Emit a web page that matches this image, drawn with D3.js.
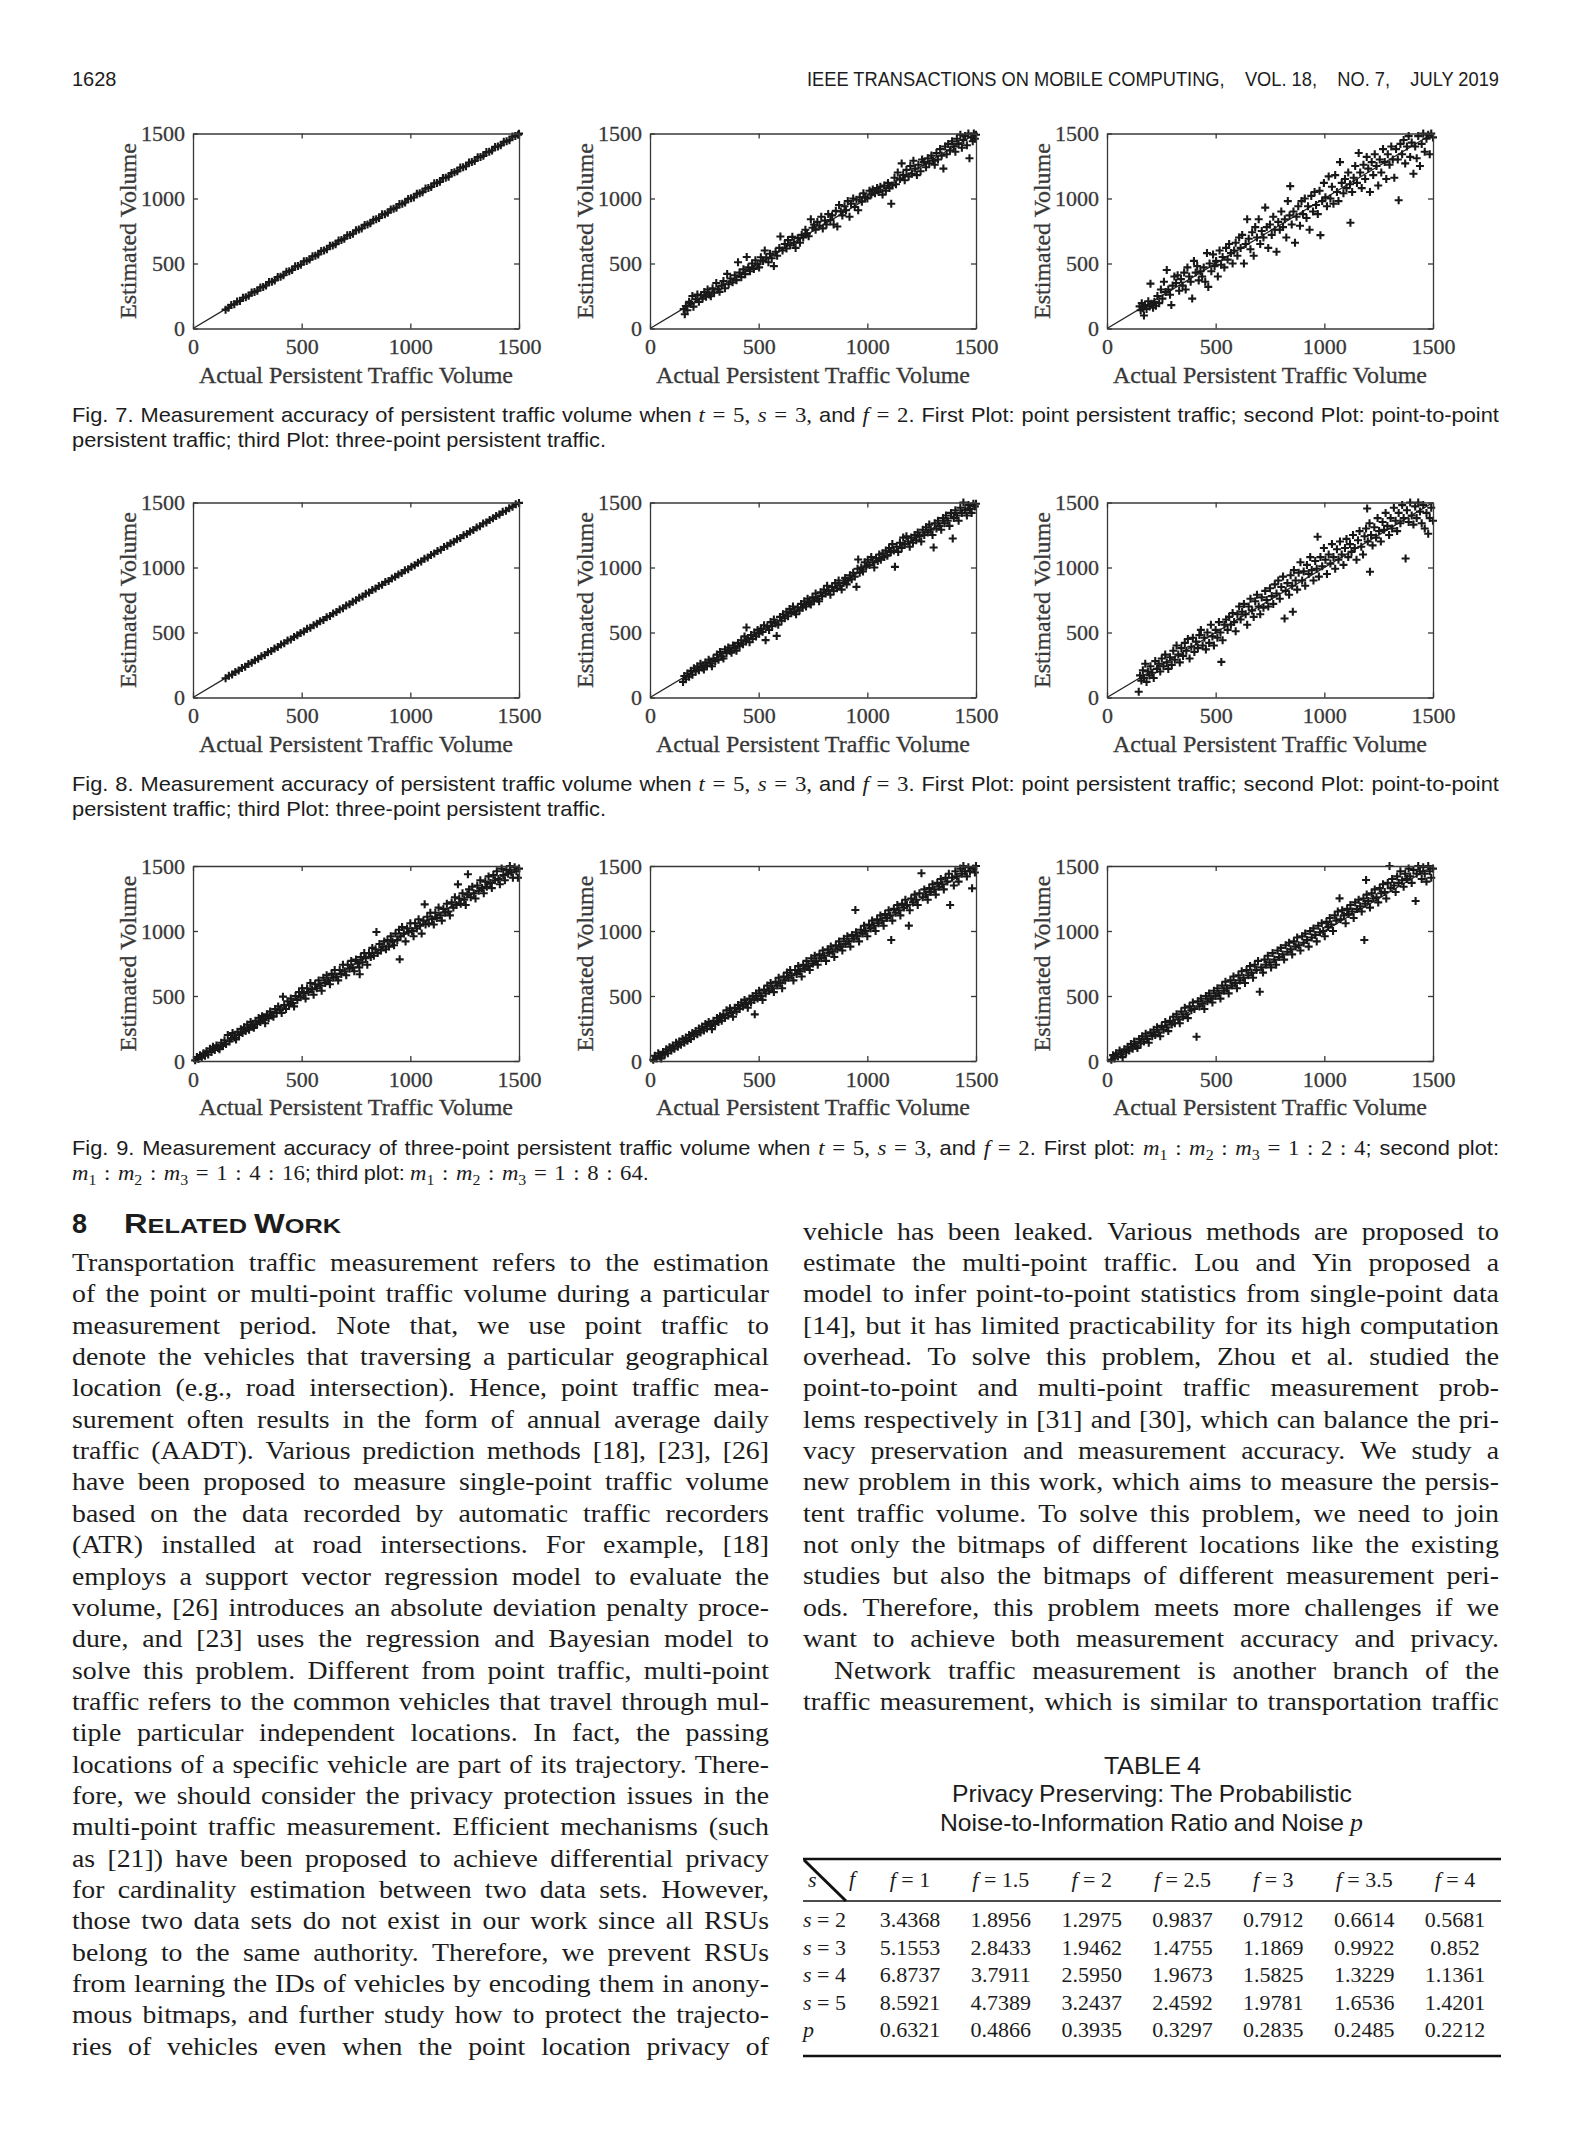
<!DOCTYPE html>
<html><head><meta charset="utf-8">
<script src="https://cdn.jsdelivr.net/npm/d3@7"></script>
<style>body{margin:0;background:#fff}svg{display:block}text{white-space:pre}</style>
</head><body>
<svg id="page" width="1569" height="2142"></svg>
<script>
// ---------------- DATA ----------------
const tickValues = [0, 500, 1000, 1500];
const axisDomain = [0, 1500];
const xLabel = "Actual Persistent Traffic Volume";
const yLabel = "Estimated Volume";

// Fig. 7 (actual, estimated)
const fig7a = [[150,145],[163,160],[176,181],[190,186],[203,207],[216,212],[230,236],[243,240],[256,252],[270,277],[283,281],[296,290],[310,316],[323,320],[336,331],[350,357],[363,359],[376,370],[390,396],[403,399],[416,410],[430,437],[443,440],[456,450],[470,478],[483,480],[496,490],[510,517],[523,519],[536,530],[550,556],[563,560],[576,569],[590,597],[603,600],[616,610],[630,637],[643,639],[656,649],[670,676],[683,681],[696,690],[710,717],[723,720],[736,729],[750,756],[763,761],[776,769],[790,797],[803,800],[816,809],[830,836],[843,841],[856,850],[870,879],[883,878],[896,890],[910,916],[923,921],[936,929],[950,957],[963,960],[976,969],[990,997],[1003,1002],[1016,1008],[1030,1037],[1043,1040],[1056,1049],[1070,1077],[1083,1081],[1096,1089],[1110,1117],[1123,1120],[1136,1128],[1150,1158],[1163,1160],[1176,1168],[1190,1196],[1203,1201],[1216,1209],[1230,1238],[1243,1240],[1256,1248],[1270,1276],[1283,1281],[1296,1289],[1310,1318],[1323,1320],[1336,1328],[1350,1357],[1363,1359],[1376,1369],[1390,1397],[1403,1400],[1416,1409],[1430,1437],[1443,1440],[1456,1448],[1470,1477],[1483,1480],[1496,1490],[1500,1499]];
const fig7b = [[155,150],[160,110],[165,172],[172,140],[180,205],[188,190],[195,250],[200,168],[210,225],[218,262],[225,205],[235,255],[242,230],[250,280],[258,245],[265,300],[272,262],[280,248],[288,310],[295,275],[305,350],[312,300],[320,282],[330,330],[338,365],[345,310],[355,420],[362,340],[370,385],[380,355],[390,410],[398,372],[405,510],[412,430],[420,395],[430,455],[438,418],[445,550],[452,470],[460,440],[470,500],[478,458],[485,525],[495,495],[502,470],[510,548],[520,520],[528,600],[535,545],[545,510],[552,575],[560,540],[570,480],[578,590],[585,560],[595,620],[600,708],[610,600],[620,650],[628,615],[635,680],[645,640],[655,705],[662,660],[670,620],[680,695],[690,660],[698,720],[705,700],[715,760],[722,730],[730,710],[740,840],[748,775],[755,800],[762,760],[770,820],[780,790],[788,860],[795,770],[805,830],[812,800],[820,880],[830,835],[838,870],[845,800],[855,905],[862,785],[870,950],[878,900],[885,870],[895,940],[902,910],[910,980],[918,860],[925,960],[935,1000],[942,935],[950,990],[958,910],[965,1010],[975,975],[982,1040],[990,1010],[1000,1000],[1010,1060],[1018,1030],[1025,1070],[1035,1040],[1045,1080],[1052,1050],[1060,1090],[1070,1030],[1078,1100],[1085,1060],[1095,1120],[1102,1080],[1110,960],[1115,1100],[1125,1160],[1132,1110],[1140,1200],[1150,1150],[1158,1270],[1165,1180],[1172,1140],[1180,1220],[1190,1170],[1198,1250],[1205,1190],[1212,1290],[1220,1230],[1228,1180],[1235,1260],[1245,1210],[1252,1300],[1260,1280],[1270,1240],[1278,1310],[1285,1270],[1295,1330],[1302,1290],[1310,1260],[1318,1350],[1325,1300],[1335,1380],[1342,1330],[1350,1230],[1358,1400],[1365,1340],[1372,1420],[1380,1370],[1390,1440],[1398,1400],[1405,1360],[1412,1460],[1420,1420],[1428,1490],[1435,1390],[1442,1450],[1450,1480],[1458,1410],[1465,1500],[1470,1310],[1478,1470],[1485,1440],[1490,1500],[1495,1460],[1500,1490]];
const fig7c = [[150,170],[155,140],[160,195],[165,155],[170,100],[175,180],[182,150],[190,210],[196,170],[200,345],[205,190],[212,160],[218,205],[225,175],[232,250],[240,195],[248,300],[255,230],[262,360],[270,280],[275,450],[282,300],[290,260],[296,180],[302,330],[310,400],[318,350],[325,410],[332,290],[340,380],[348,330],[355,430],[362,300],[370,470],[378,400],[385,360],[392,230],[400,520],[408,430],[415,480],[422,370],[430,440],[438,400],[445,470],[452,360],[460,580],[466,320],[472,500],[480,440],[488,570],[495,480],[502,520],[510,400],[518,600],[525,490],[532,550],[540,470],[548,620],[555,530],[562,650],[570,580],[578,500],[585,600],[592,660],[600,560],[608,700],[615,620],[622,720],[630,500],[638,650],[645,840],[652,690],[660,610],[668,740],[675,560],[682,780],[690,700],[698,840],[705,650],[712,750],[720,700],[728,930],[735,780],[742,620],[750,800],[758,720],[765,860],[772,760],[780,590],[788,820],[795,760],[802,900],[810,780],[818,840],[825,700],[832,980],[840,870],[843,1095],[850,800],[858,900],[865,660],[872,860],[880,940],[888,790],[895,980],[902,880],[910,1000],[918,850],[925,940],[932,760],[940,1020],[948,900],[955,1050],[962,950],[970,880],[978,1060],[982,718],[990,980],[998,1120],[1005,1010],[1012,940],[1020,1170],[1028,1000],[1035,1090],[1042,960],[1050,1180],[1058,1050],[1065,980],[1072,1280],[1080,1120],[1088,1040],[1095,1150],[1102,1080],[1110,1200],[1118,1110],[1120,813],[1128,1050],[1135,1160],[1142,1250],[1150,1120],[1158,1350],[1165,1200],[1172,1080],[1180,1260],[1188,1150],[1195,1320],[1202,1230],[1210,1050],[1218,1280],[1225,1180],[1232,1340],[1240,1250],[1248,1100],[1255,1300],[1262,1200],[1270,1380],[1278,1280],[1285,1150],[1292,1340],[1300,1260],[1308,1400],[1315,1300],[1322,1160],[1330,1380],[1338,1300],[1342,987],[1350,1420],[1358,1340],[1365,1450],[1372,1270],[1380,1400],[1388,1480],[1395,1320],[1402,1430],[1410,1190],[1418,1400],[1425,1310],[1432,1480],[1440,1250],[1448,1420],[1455,1500],[1462,1360],[1470,1460],[1478,1490],[1485,1340],[1492,1500],[1500,1470]];
// Fig. 8
const fig8a = [[150,148],[165,167],[180,177],[195,197],[210,208],[225,227],[240,237],[255,258],[270,268],[285,286],[300,298],[315,317],[330,327],[345,348],[360,357],[375,376],[390,388],[405,407],[420,417],[435,438],[450,447],[465,466],[480,478],[495,497],[510,507],[525,528],[540,537],[555,556],[570,568],[585,587],[600,597],[615,618],[630,627],[645,646],[660,658],[675,677],[690,687],[705,708],[720,717],[735,736],[750,748],[765,767],[780,777],[795,798],[810,807],[825,826],[840,838],[855,857],[870,867],[885,888],[900,897],[915,916],[930,928],[945,947],[960,957],[975,978],[990,987],[1005,1006],[1020,1018],[1035,1037],[1050,1047],[1065,1068],[1080,1077],[1095,1096],[1110,1108],[1125,1127],[1140,1137],[1155,1158],[1170,1167],[1185,1186],[1200,1198],[1215,1217],[1230,1227],[1245,1248],[1260,1257],[1275,1276],[1290,1288],[1305,1307],[1320,1317],[1335,1338],[1350,1347],[1365,1366],[1380,1378],[1395,1397],[1410,1407],[1425,1428],[1440,1437],[1455,1456],[1470,1468],[1485,1487],[1500,1497]];
const fig8b = [[152,120],[158,165],[165,140],[172,185],[180,160],[188,205],[195,175],[202,225],[210,200],[218,240],[225,210],[232,260],[240,230],[248,215],[255,270],[262,245],[270,290],[278,262],[285,240],[292,300],[300,280],[308,330],[315,290],[322,350],[330,315],[338,300],[345,370],[352,340],[360,385],[368,360],[375,345],[382,400],[390,380],[398,360],[405,420],[412,395],[420,440],[428,410],[435,470],[442,430],[444,538],[450,455],[458,425],[465,480],[472,450],[480,500],[488,470],[495,520],[502,490],[510,530],[518,505],[525,555],[532,441],[540,545],[548,520],[555,580],[562,550],[570,600],[578,570],[583,474],[590,560],[598,620],[605,590],[612,640],[620,610],[628,660],[635,625],[642,680],[650,650],[658,700],[665,660],[672,640],[680,690],[688,670],[695,720],[702,690],[710,740],[718,700],[725,760],[732,730],[740,715],[748,770],[755,745],[762,800],[770,760],[778,740],[785,810],[792,780],[800,830],[808,800],[815,860],[822,820],[830,790],[838,850],[845,820],[852,880],[860,840],[868,900],[875,860],[882,830],[890,880],[898,920],[905,870],[912,900],[920,940],[928,910],[935,960],[942,930],[950,851],[955,990],[958,1062],[965,960],[972,1000],[980,970],[988,1040],[995,1010],[1002,1060],[1010,1020],[1018,1080],[1025,1040],[1032,1000],[1040,1070],[1048,1050],[1055,1100],[1062,1060],[1070,1110],[1078,1080],[1085,1130],[1092,1090],[1100,1150],[1108,1120],[1115,1180],[1122,1130],[1127,1005],[1135,1160],[1142,1120],[1150,1190],[1158,1150],[1165,1230],[1172,1180],[1180,1240],[1188,1200],[1195,1160],[1202,1230],[1210,1190],[1218,1250],[1225,1210],[1232,1270],[1240,1240],[1248,1200],[1255,1290],[1262,1250],[1270,1310],[1278,1270],[1285,1330],[1292,1290],[1300,1250],[1305,1154],[1310,1340],[1318,1300],[1325,1360],[1332,1320],[1340,1290],[1348,1380],[1355,1340],[1362,1400],[1370,1360],[1378,1320],[1385,1420],[1393,1223],[1398,1380],[1405,1440],[1412,1400],[1420,1360],[1428,1460],[1435,1420],[1442,1500],[1450,1440],[1458,1400],[1465,1480],[1472,1450],[1480,1420],[1488,1490],[1495,1470],[1500,1490]];
const fig8c = [[146,44],[152,170],[158,130],[165,210],[170,150],[176,260],[182,120],[188,200],[195,170],[200,240],[208,190],[215,150],[222,280],[230,220],[238,260],[245,200],[252,300],[260,240],[268,330],[275,270],[282,220],[290,310],[298,250],[305,360],[312,290],[320,400],[328,330],[335,270],[342,380],[350,320],[358,420],[365,360],[372,450],[380,300],[388,390],[395,460],[402,350],[410,430],[418,380],[425,480],[432,520],[440,400],[448,460],[455,370],[462,500],[470,420],[478,560],[485,470],[492,400],[500,520],[508,460],[515,580],[522,500],[526,274],[532,440],[540,560],[548,600],[555,520],[562,620],[570,560],[578,650],[585,580],[592,510],[600,640],[608,700],[615,600],[622,660],[630,720],[638,640],[645,560],[652,700],[660,760],[668,670],[675,620],[682,740],[690,790],[698,700],[705,640],[712,770],[720,690],[728,820],[735,750],[742,700],[750,840],[758,780],[765,720],[772,870],[780,800],[788,900],[795,760],[802,850],[810,930],[817,608],[822,820],[830,880],[838,790],[845,940],[852,860],[855,660],[860,980],[868,900],[875,830],[882,960],[890,1040],[898,900],[905,970],[912,860],[920,1020],[928,950],[935,1080],[942,980],[950,900],[958,1050],[965,990],[969,1236],[975,930],[982,1080],[990,1010],[998,1150],[1005,1060],[1012,950],[1020,1100],[1028,1030],[1035,1180],[1042,1080],[1050,990],[1058,1140],[1065,1060],[1072,1200],[1080,1100],[1088,1020],[1095,1150],[1102,1220],[1110,1080],[1118,1180],[1125,1120],[1132,1250],[1140,1150],[1148,1060],[1155,1210],[1162,1280],[1170,1160],[1178,1100],[1185,1240],[1192,1300],[1197,1454],[1200,1200],[1208,1340],[1210,967],[1215,1250],[1222,1170],[1230,1310],[1238,1230],[1245,1380],[1252,1280],[1260,1200],[1268,1350],[1275,1290],[1282,1420],[1290,1320],[1298,1250],[1305,1380],[1312,1300],[1320,1460],[1328,1360],[1335,1280],[1342,1420],[1350,1340],[1358,1480],[1365,1380],[1374,1069],[1380,1440],[1388,1350],[1395,1500],[1402,1400],[1410,1330],[1418,1470],[1425,1380],[1432,1500],[1440,1430],[1448,1340],[1455,1480],[1462,1300],[1470,1420],[1478,1260],[1485,1380],[1492,1460],[1500,1360]];
// Fig. 9
const fig9a = [[10,5],[18,30],[25,15],[32,45],[40,25],[48,60],[55,40],[62,75],[70,50],[78,95],[85,70],[92,110],[100,85],[108,120],[115,100],[122,90],[130,140],[138,115],[145,160],[152,130],[160,200],[168,150],[175,175],[182,215],[190,180],[198,165],[205,225],[212,200],[220,245],[228,215],[235,260],[242,230],[250,280],[258,240],[265,300],[272,270],[280,255],[288,310],[295,285],[302,330],[310,300],[318,345],[325,315],[332,290],[340,360],[348,330],[355,380],[362,350],[370,340],[378,400],[385,370],[392,420],[400,390],[408,370],[414,495],[420,430],[428,400],[435,460],[442,430],[450,480],[458,445],[465,420],[472,500],[480,470],[488,530],[495,490],[502,560],[510,520],[518,480],[525,560],[532,530],[540,600],[548,550],[555,510],[562,590],[570,560],[578,620],[585,580],[592,540],[600,640],[608,600],[615,660],[622,620],[630,590],[638,670],[645,640],[652,700],[660,650],[668,620],[675,700],[682,670],[690,740],[698,690],[705,660],[712,740],[720,710],[728,770],[735,720],[742,690],[750,780],[758,750],[765,720],[767,667],[772,800],[780,760],[788,830],[795,790],[802,740],[810,830],[818,800],[825,870],[832,810],[840,860],[844,992],[850,830],[858,900],[865,850],[872,880],[880,920],[888,860],[895,930],[902,880],[910,960],[918,920],[925,890],[932,980],[940,930],[948,1010],[951,782],[955,960],[962,1030],[970,980],[978,920],[985,1020],[992,990],[1000,1060],[1008,1000],[1015,960],[1022,1060],[1030,1020],[1038,1090],[1045,1040],[1052,980],[1060,1080],[1066,1205],[1070,1050],[1078,1110],[1085,1060],[1092,1140],[1100,1090],[1108,1050],[1115,1140],[1122,1100],[1130,1180],[1138,1120],[1145,1080],[1152,1170],[1160,1140],[1168,1210],[1175,1150],[1182,1120],[1190,1220],[1198,1180],[1205,1260],[1212,1200],[1219,1359],[1225,1250],[1232,1210],[1240,1290],[1248,1240],[1255,1200],[1262,1280],[1265,1436],[1270,1320],[1278,1260],[1285,1340],[1292,1290],[1300,1250],[1308,1350],[1315,1310],[1322,1390],[1330,1330],[1338,1290],[1345,1380],[1352,1340],[1360,1420],[1368,1370],[1375,1330],[1382,1430],[1390,1390],[1398,1460],[1405,1400],[1412,1360],[1420,1480],[1428,1430],[1435,1390],[1442,1470],[1450,1440],[1458,1500],[1465,1450],[1472,1410],[1480,1490],[1488,1460],[1495,1410],[1500,1480]];
const fig9b = [[15,10],[22,40],[30,20],[38,60],[45,35],[52,20],[60,70],[68,50],[75,90],[82,60],[90,105],[98,80],[105,120],[112,95],[120,140],[128,110],[135,150],[142,125],[150,170],[158,140],[165,180],[172,155],[180,200],[188,170],[195,215],[202,190],[210,230],[218,205],[225,250],[232,220],[240,265],[248,235],[255,285],[262,250],[270,300],[278,270],[285,245],[292,310],[300,285],[308,330],[315,300],[322,345],[330,310],[338,360],[345,330],[352,390],[360,350],[368,405],[375,370],[382,340],[390,410],[398,380],[405,430],[412,400],[420,450],[428,420],[435,470],[442,440],[450,410],[458,480],[465,450],[472,500],[480,470],[482,359],[488,520],[495,480],[502,540],[510,500],[518,470],[525,550],[532,520],[540,580],[548,540],[555,600],[562,560],[570,530],[578,610],[585,580],[592,640],[600,600],[608,560],[615,650],[622,620],[630,680],[638,640],[645,700],[652,660],[660,620],[668,700],[675,670],[682,730],[690,690],[698,650],[705,740],[712,710],[720,770],[728,730],[735,700],[742,790],[750,750],[758,810],[765,770],[772,740],[780,820],[788,790],[795,850],[802,810],[810,770],[818,860],[825,830],[832,880],[840,840],[848,800],[855,890],[862,860],[870,920],[878,880],[885,850],[892,940],[900,900],[908,960],[915,920],[922,880],[930,970],[938,940],[945,1162],[948,990],[955,960],[962,920],[970,1010],[978,980],[985,1040],[992,1000],[1000,960],[1008,1050],[1015,1020],[1022,1080],[1030,1040],[1038,1000],[1045,1090],[1052,1060],[1060,1120],[1068,1080],[1075,1040],[1082,1130],[1090,1100],[1098,1160],[1105,1120],[1110,931],[1115,1080],[1122,1170],[1130,1140],[1138,1200],[1145,1160],[1152,1120],[1160,1210],[1168,1180],[1175,1240],[1182,1200],[1191,1041],[1195,1160],[1202,1250],[1210,1220],[1218,1280],[1225,1240],[1232,1200],[1240,1290],[1249,1444],[1255,1260],[1262,1320],[1270,1280],[1278,1240],[1285,1330],[1292,1300],[1300,1360],[1308,1320],[1315,1280],[1322,1370],[1330,1340],[1338,1400],[1345,1360],[1352,1320],[1360,1410],[1368,1380],[1375,1440],[1381,1200],[1390,1410],[1398,1350],[1405,1460],[1412,1420],[1420,1380],[1428,1480],[1435,1440],[1442,1500],[1450,1460],[1458,1420],[1465,1490],[1472,1460],[1482,1328],[1488,1480],[1495,1450],[1500,1500]];
const fig9c = [[20,10],[28,45],[35,20],[42,60],[50,35],[58,80],[65,50],[72,30],[80,90],[88,65],[95,110],[102,80],[110,130],[118,95],[125,150],[132,115],[140,100],[148,170],[155,135],[162,190],[170,150],[178,210],[185,170],[192,140],[200,220],[208,190],[215,240],[222,200],[230,260],[238,220],[245,190],[252,270],[260,240],[268,300],[275,260],[282,230],[290,310],[298,280],[305,340],[312,290],[320,360],[328,320],[335,290],[342,380],[350,340],[358,410],[365,360],[372,330],[380,420],[388,390],[395,450],[402,400],[412,187],[418,460],[425,420],[432,480],[440,440],[448,400],[455,500],[462,460],[470,520],[478,480],[485,450],[492,540],[500,500],[508,560],[515,520],[522,480],[530,580],[538,540],[545,610],[552,560],[560,520],[568,620],[575,580],[582,650],[590,600],[598,560],[605,660],[612,620],[620,690],[628,640],[635,600],[642,700],[650,660],[658,730],[665,680],[672,640],[680,740],[688,700],[695,770],[703,533],[710,720],[718,680],[725,780],[732,740],[740,810],[748,760],[755,720],[762,830],[770,780],[778,740],[785,850],[792,800],[800,870],[808,820],[815,780],[822,890],[830,840],[838,910],[845,860],[852,820],[860,920],[868,880],[875,950],[882,890],[890,850],[898,960],[905,910],[912,980],[920,930],[928,880],[935,1000],[942,950],[950,1020],[958,970],[965,920],[972,1040],[980,990],[988,1060],[995,1000],[1002,960],[1010,1070],[1018,1030],[1025,1100],[1032,1050],[1040,1000],[1048,1120],[1055,1080],[1062,1150],[1070,1251],[1075,1090],[1082,1160],[1090,1120],[1098,1060],[1105,1170],[1112,1130],[1120,1200],[1128,1150],[1135,1100],[1142,1220],[1150,1170],[1158,1240],[1165,1190],[1172,1150],[1180,1250],[1184,931],[1188,1210],[1192,1392],[1195,1280],[1202,1230],[1210,1180],[1218,1290],[1225,1250],[1232,1320],[1240,1260],[1248,1220],[1255,1330],[1262,1290],[1270,1360],[1278,1300],[1285,1250],[1292,1370],[1300,1500],[1305,1330],[1312,1400],[1320,1350],[1328,1300],[1335,1420],[1342,1370],[1350,1460],[1358,1390],[1365,1340],[1372,1440],[1380,1400],[1388,1480],[1395,1420],[1402,1370],[1410,1470],[1420,1231],[1425,1440],[1432,1500],[1440,1460],[1448,1400],[1455,1490],[1462,1440],[1470,1380],[1478,1500],[1485,1460],[1492,1410],[1500,1480]];

// Table 4
const tableF = ["1", "1.5", "2", "2.5", "3", "3.5", "4"];
const tableRowLabels = ["$s = 2$", "$s = 3$", "$s = 4$", "$s = 5$", "$p$"];
const tableValues = [
  ["3.4368","1.8956","1.2975","0.9837","0.7912","0.6614","0.5681"],
  ["5.1553","2.8433","1.9462","1.4755","1.1869","0.9922","0.852"],
  ["6.8737","3.7911","2.5950","1.9673","1.5825","1.3229","1.1361"],
  ["8.5921","4.7389","3.2437","2.4592","1.9781","1.6536","1.4201"],
  ["0.6321","0.4866","0.3935","0.3297","0.2835","0.2485","0.2212"]
];

// Text
const cap7 = ["Fig. 7. Measurement accuracy of persistent traffic volume when $t = 5, s = 3,$ and $f = 2$. First Plot: point persistent traffic; second Plot: point-to-point",
              "persistent traffic; third Plot: three-point persistent traffic."];
const cap8 = ["Fig. 8. Measurement accuracy of persistent traffic volume when $t = 5, s = 3,$ and $f = 3$. First Plot: point persistent traffic; second Plot: point-to-point",
              "persistent traffic; third Plot: three-point persistent traffic."];
const cap9 = ["Fig. 9. Measurement accuracy of three-point persistent traffic volume when $t = 5, s = 3,$ and $f = 2$. First plot: $m_1 : m_2 : m_3 = 1 : 2 : 4$; second plot:",
              "$m_1 : m_2 : m_3 = 1 : 4 : 16$; third plot: $m_1 : m_2 : m_3 = 1 : 8 : 64$."];
const leftLines = [
"Transportation traffic measurement refers to the estimation",
"of the point or multi-point traffic volume during a particular",
"measurement period. Note that, we use point traffic to",
"denote the vehicles that traversing a particular geographical",
"location (e.g., road intersection). Hence, point traffic mea-",
"surement often results in the form of annual average daily",
"traffic (AADT). Various prediction methods [18], [23], [26]",
"have been proposed to measure single-point traffic volume",
"based on the data recorded by automatic traffic recorders",
"(ATR) installed at road intersections. For example, [18]",
"employs a support vector regression model to evaluate the",
"volume, [26] introduces an absolute deviation penalty proce-",
"dure, and [23] uses the regression and Bayesian model to",
"solve this problem. Different from point traffic, multi-point",
"traffic refers to the common vehicles that travel through mul-",
"tiple particular independent locations. In fact, the passing",
"locations of a specific vehicle are part of its trajectory. There-",
"fore, we should consider the privacy protection issues in the",
"multi-point traffic measurement. Efficient mechanisms (such",
"as [21]) have been proposed to achieve differential privacy",
"for cardinality estimation between two data sets. However,",
"those two data sets do not exist in our work since all RSUs",
"belong to the same authority. Therefore, we prevent RSUs",
"from learning the IDs of vehicles by encoding them in anony-",
"mous bitmaps, and further study how to protect the trajecto-",
"ries of vehicles even when the point location privacy of"];
const rightLines = [
"vehicle has been leaked. Various methods are proposed to",
"estimate the multi-point traffic. Lou and Yin proposed a",
"model to infer point-to-point statistics from single-point data",
"[14], but it has limited practicability for its high computation",
"overhead. To solve this problem, Zhou et al. studied the",
"point-to-point and multi-point traffic measurement prob-",
"lems respectively in [31] and [30], which can balance the pri-",
"vacy preservation and measurement accuracy. We study a",
"new problem in this work, which aims to measure the persis-",
"tent traffic volume. To solve this problem, we need to join",
"not only the bitmaps of different locations like the existing",
"studies but also the bitmaps of different measurement peri-",
"ods. Therefore, this problem meets more challenges if we",
"want to achieve both measurement accuracy and privacy.",
"Network traffic measurement is another branch of the",
"traffic measurement, which is similar to transportation traffic"];

// ---------------- LAYOUT ----------------
const svg = d3.select("#page");
svg.append("rect").attr("width",1569).attr("height",2142).attr("fill","#fff");
const INK = "#1c1c1c", AX = "#383838";
const SANS = "'Liberation Sans', Arial, sans-serif";
const SERIF = "'Liberation Serif', 'Times New Roman', serif";
const PW = 326, PH = 195;
const colLeft = [193, 650, 1107];
const rowTop = [133.5, 502.5, 866];

function drawPlot(data, left, top) {
  const x = d3.scaleLinear().domain(axisDomain).range([left, left + PW]);
  const y = d3.scaleLinear().domain(axisDomain).range([top + PH, top]);
  const g = svg.append("g");
  g.append("path").datum([[0,0],[1500,1500]])
    .attr("d", d3.line().x(d => x(d[0])).y(d => y(d[1])))
    .attr("stroke", "#222").attr("stroke-width", 1.4).attr("fill","none");
  g.append("g").selectAll("path").data(data).join("path")
    .attr("transform", d => `translate(${x(d[0])},${y(d[1])})`)
    .attr("d", "M-4,0H4M0,-4V4")
    .attr("stroke", "#181818").attr("stroke-width", 2.1).attr("fill","none");
  const style = sel => {
    sel.attr("font-family", SERIF).attr("font-size", 22);
    sel.selectAll("path,line").attr("stroke", AX).attr("stroke-width", 1.3);
    sel.selectAll("text").attr("fill", AX).attr("stroke", AX).attr("stroke-width", 0.3);
  };
  g.append("g").attr("transform", `translate(0,${top + PH})`)
    .call(d3.axisBottom(x).tickValues(tickValues).tickSizeInner(-5).tickSizeOuter(0).tickPadding(10).tickFormat(d3.format("d"))).call(style);
  g.append("g").attr("transform", `translate(${left},0)`)
    .call(d3.axisLeft(y).tickValues(tickValues).tickSizeInner(-5).tickSizeOuter(0).tickPadding(8).tickFormat(d3.format("d"))).call(style);
  g.append("g").attr("transform", `translate(0,${top})`)
    .call(d3.axisTop(x).tickValues(tickValues).tickSizeInner(-5).tickSizeOuter(0).tickFormat("")).call(style);
  g.append("g").attr("transform", `translate(${left + PW},0)`)
    .call(d3.axisRight(y).tickValues(tickValues).tickSizeInner(-5).tickSizeOuter(0).tickFormat("")).call(style);
  g.append("text").attr("x", left + PW / 2).attr("y", top + PH + 54).attr("text-anchor", "middle")
    .attr("font-family", SERIF).attr("font-size", 24).attr("fill", AX).attr("stroke", AX).attr("stroke-width", 0.3).text(xLabel);
  g.append("text").attr("transform", `translate(${left - 57},${top + PH / 2}) rotate(-90)`).attr("text-anchor", "middle")
    .attr("font-family", SERIF).attr("font-size", 24).attr("fill", AX).attr("stroke", AX).attr("stroke-width", 0.3).text(yLabel);
}
const figs = [[fig7a, fig7b, fig7c], [fig8a, fig8b, fig8c], [fig9a, fig9b, fig9c]];
figs.forEach((row, r) => row.forEach((d, c) => drawPlot(d, colLeft[c], rowTop[r])));

// --- rich text helpers ---
function tokenize(line) {
  const toks = []; let cur = "", inMath = false;
  for (const ch of line) {
    if (ch === "$") { inMath = !inMath; cur += ch; continue; }
    if (ch === " " && !inMath) { if (cur) toks.push(cur); cur = ""; } else cur += ch;
  }
  if (cur) toks.push(cur);
  return toks;
}
function parseRuns(tok, mathSpace) {
  const runs = [];
  tok.split("$").forEach((p, i) => {
    if (!p) return;
    if (i % 2 === 0) { runs.push({ t: p, k: "n" }); return; }
    for (let j = 0; j < p.length; j++) {
      const c = p[j];
      if (c === "_") { runs.push({ t: p[j + 1], k: "sub" }); j++; }
      else if (/[a-zA-Z]/.test(c)) runs.push({ t: c, k: "it" });
      else if (c === " ") runs.push({ t: mathSpace || "\u2002", k: "up" });
      else runs.push({ t: c, k: "up" });
    }
  });
  return runs;
}
function renderRuns(el, runs, st) {
  let shifted = false;
  runs.forEach(r => {
    const ts = el.append("tspan").text(r.t);
    if (r.k === "n") ts.attr("font-family", st.family).attr("font-size", st.size);
    else if (r.k === "it") ts.attr("font-family", SERIF).attr("font-style", "italic").attr("font-size", st.msize);
    else if (r.k === "up") ts.attr("font-family", SERIF).attr("font-size", st.msize);
    else ts.attr("font-family", SERIF).attr("font-size", st.msize * 0.7);
    if (r.k === "sub" && !shifted) { ts.attr("dy", st.msize * 0.22); shifted = true; }
    else if (r.k !== "sub" && shifted) { ts.attr("dy", -st.msize * 0.22); shifted = false; }
  });
}
function layoutLine(str, x0, baseline, width, st) {
  const toks = tokenize(str);
  const els = toks.map(t => {
    const el = svg.append("text").attr("xml:space", "preserve").attr("fill", st.color || INK);
    renderRuns(el, parseRuns(t, st.mathSpace), st);
    return el;
  });
  const ws = els.map(e => e.node().getComputedTextLength());
  const sum = d3.sum(ws), n = toks.length, sp = st.size * 0.25;
  let s = n > 1 ? (width - (n - 1) * sp) / sum : width / sum;
  s = Math.max(st.smin, Math.min(st.smax, s));
  const gap = n > 1 ? (width - sum * s) / (n - 1) : 0;
  let x = x0;
  els.forEach((e, i) => { e.attr("transform", `translate(${x.toFixed(2)},${baseline}) scale(${s.toFixed(4)},1)`); x += ws[i] * s + gap; });
}

// header
svg.append("text").attr("x", 72).attr("y", 86).attr("font-family", SANS).attr("font-size", 20).attr("fill", INK).text("1628");
svg.append("text").attr("x", 807).attr("y", 86).attr("font-family", SANS).attr("font-size", 20).attr("fill", INK)
  .attr("xml:space", "preserve").attr("textLength", 692).attr("lengthAdjust", "spacingAndGlyphs")
  .text("IEEE TRANSACTIONS ON MOBILE COMPUTING,    VOL. 18,    NO. 7,    JULY 2019");

// captions
const capStyle = { family: SANS, size: 21, msize: 22, smin: 0.8, smax: 1.04, mathSpace: "\u2004" };
const capW2 = [534, 534, 577];
[[cap7, 422], [cap8, 791], [cap9, 1155]].forEach(([cap, yb], i) => {
  layoutLine(cap[0], 72, yb, 1427, capStyle);
  layoutLine(cap[1], 72, yb + 25, capW2[i], capStyle);
});

// section heading
svg.append("text").attr("x", 72).attr("y", 1233).attr("font-family", SANS).attr("font-weight", "bold")
  .attr("font-size", 27).attr("fill", INK).text("8");
const hd2 = svg.append("text").attr("x", 124).attr("y", 1233).attr("font-family", SANS).attr("font-weight", "bold").attr("fill", INK)
  .attr("xml:space", "preserve").attr("textLength", 217).attr("lengthAdjust", "spacingAndGlyphs");
hd2.append("tspan").attr("font-size", 27).text("R");
hd2.append("tspan").attr("font-size", 21).text("ELATED ");
hd2.append("tspan").attr("font-size", 27).text("W");
hd2.append("tspan").attr("font-size", 21).text("ORK");

// body text
const bodyStyle = { family: SERIF, size: 26, msize: 26, smin: 0.9, smax: 1.07 };
const LH = 31.35;
leftLines.forEach((ln, i) => layoutLine(ln, 72, 1271 + i * LH, 697, bodyStyle));
rightLines.forEach((ln, i) => {
  const ind = i === 14 ? 31 : 0;
  layoutLine(ln, 803 + ind, 1239.6 + i * LH, 696 - ind, bodyStyle);
});

// table title
const ttl = { family: SANS, size: 24, msize: 25, smin: 0.75, smax: 1.05 };
layoutLine("TABLE 4", 1104, 1774, 97, ttl);
layoutLine("Privacy Preserving: The Probabilistic", 952, 1802, 400, ttl);
layoutLine("Noise-to-Information Ratio and Noise $p$", 940, 1831, 423, ttl);

// table
const colX = d3.scalePoint().domain(tableF).range([910, 1455]);
const rowY = d3.scalePoint().domain(tableRowLabels).range([1927, 2037]);
const tStyle = { family: SERIF, size: 22, msize: 22 };
const TSP = "\u2005";
const tl = svg.append("g");
[[1859, 2.6], [1901, 1.6], [2056, 2.6]].forEach(([yy, w]) =>
  tl.append("line").attr("x1", 803).attr("x2", 1501).attr("y1", yy).attr("y2", yy).attr("stroke", "#111").attr("stroke-width", w));
tl.append("line").attr("x1", 804).attr("y1", 1860).attr("x2", 846).attr("y2", 1901).attr("stroke", "#111").attr("stroke-width", 3);
renderRuns(tl.append("text").attr("x", 808).attr("y", 1887).attr("fill", INK), parseRuns("$s$", TSP), tStyle);
renderRuns(tl.append("text").attr("x", 849).attr("y", 1886).attr("fill", INK), parseRuns("$f$", TSP), tStyle);
tableF.forEach(f => {
  const t = tl.append("text").attr("x", colX(f)).attr("y", 1887).attr("text-anchor", "middle").attr("xml:space", "preserve").attr("fill", INK);
  renderRuns(t, parseRuns("$f = " + f + "$", TSP), tStyle);
});
tableRowLabels.forEach((lab, r) => {
  const t = tl.append("text").attr("x", 803).attr("y", rowY(lab)).attr("xml:space", "preserve").attr("fill", INK);
  renderRuns(t, parseRuns(lab, TSP), tStyle);
  tableValues[r].forEach((v, c) => {
    tl.append("text").attr("x", colX(tableF[c])).attr("y", rowY(lab)).attr("text-anchor", "middle")
      .attr("font-family", SERIF).attr("font-size", 22).attr("fill", INK).text(v);
  });
});
</script>
</body></html>
